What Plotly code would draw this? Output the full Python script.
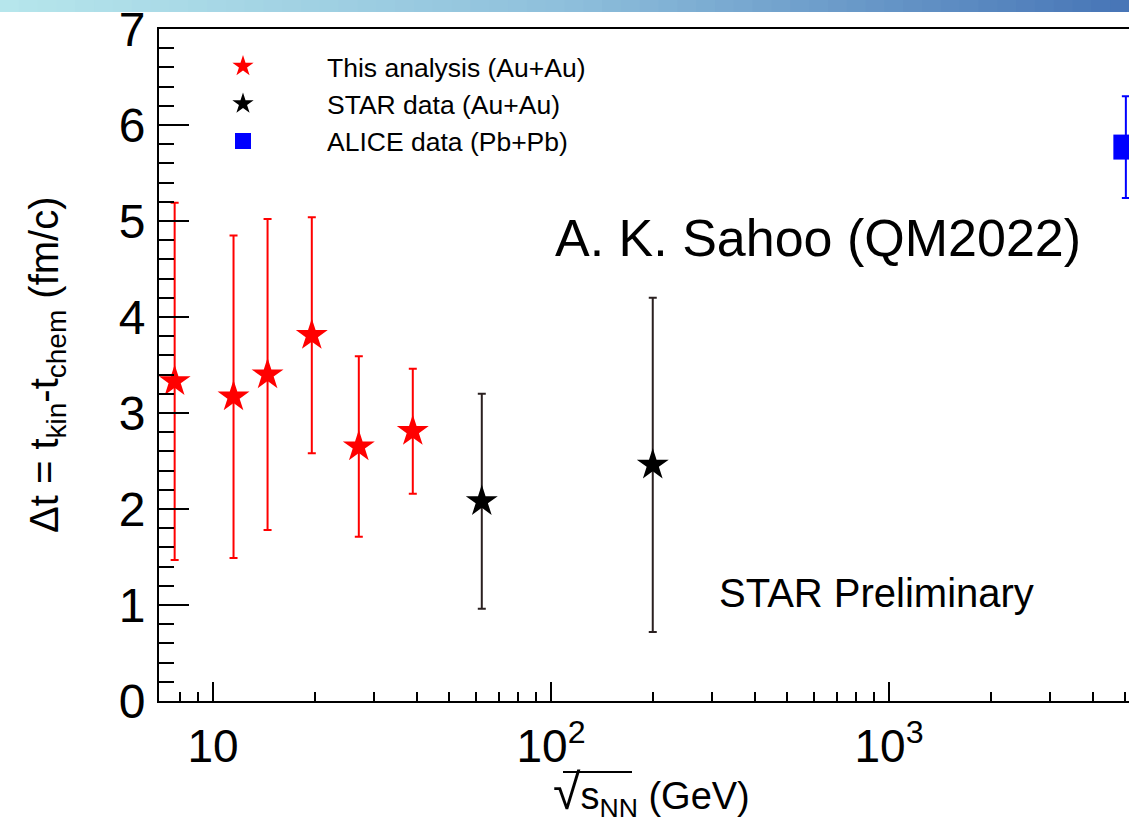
import plotly.graph_objects as go

# ---- data ----
this_x = [7.7, 11.5, 14.5, 19.6, 27.0, 39.0]
this_y = [3.33, 3.17, 3.40, 3.81, 2.65, 2.81]
this_err = [1.86, 1.68, 1.62, 1.23, 0.94, 0.65]

star_x = [62.4, 200.0]
star_y = [2.08, 2.46]
star_err = [1.12, 1.74]

alice_x = [5020.0]
alice_y = [5.77]
alice_err = [0.53]

x_tickvals = [10, 100, 1000]
x_ticktext = ["10", "10<sup>2</sup>", "10<sup>3</sup>"]
x_minor = [8, 9] + [d * 10 for d in range(2, 10)] + [d * 100 for d in range(2, 10)] + [d * 1000 for d in range(2, 10)]

FONT = "Liberation Sans, Arial, Helvetica, sans-serif"


def px_x(p):
    return (p - 159) / 970


def px_y(p):
    return (701 - p) / 672


fig = go.Figure()
fig.add_trace(go.Scatter(
    x=this_x, y=this_y, mode="markers", name="This analysis (Au+Au)",
    marker=dict(symbol="star", size=24, color="#ff0000", line=dict(width=0)),
    error_y=dict(type="data", array=this_err, color="#ff0000", thickness=2, width=4),
))
fig.add_trace(go.Scatter(
    x=star_x, y=star_y, mode="markers", name="STAR data (Au+Au)",
    marker=dict(symbol="star", size=24, color="#000000", line=dict(width=0)),
    error_y=dict(type="data", array=star_err, color="#2a2020", thickness=2, width=4),
))
fig.add_trace(go.Scatter(
    x=alice_x, y=alice_y, mode="markers", name="ALICE data (Pb+Pb)",
    marker=dict(symbol="square", size=25, color="#0000ff", line=dict(width=0)),
    error_y=dict(type="data", array=alice_err, color="#0000ff", thickness=2, width=4),
))

# gradient header band
c0 = (182, 230, 236)
c1 = (143, 192, 220)
c2 = (72, 118, 183)
N = 60
shapes = []
x_left = px_x(0)
for i in range(N):
    t = i / (N - 1)
    if t < 0.5:
        u = t / 0.5
        c = tuple(int(c0[k] + (c1[k] - c0[k]) * u) for k in range(3))
    else:
        u = (t - 0.5) / 0.5
        c = tuple(int(c1[k] + (c2[k] - c1[k]) * u) for k in range(3))
    xa = x_left + (1 - x_left) * i / N
    xb = x_left + (1 - x_left) * (i + 1) / N + 0.002
    shapes.append(dict(type="rect", xref="paper", yref="paper",
                       x0=xa, x1=xb, y0=px_y(12), y1=px_y(0) + 0.01,
                       fillcolor="rgb(%d,%d,%d)" % c, line=dict(width=0), layer="above"))

# overline of the square-root in the x title
shapes.append(dict(type="line", xref="paper", yref="paper",
                   x0=px_x(563), x1=px_x(632), y0=px_y(772), y1=px_y(772),
                   line=dict(color="black", width=2)))

fig.update_layout(
    width=1129, height=825,
    margin=dict(l=159, r=0, t=29, b=124),
    paper_bgcolor="white", plot_bgcolor="white",
    font=dict(family=FONT, color="black"),
    shapes=shapes,
    showlegend=True,
    legend=dict(x=0.0, y=0.98, xanchor="left", yanchor="top",
                font=dict(size=26.5, family=FONT, color="black"),
                bgcolor="rgba(0,0,0,0)", itemwidth=158, tracegroupgap=0),
    xaxis=dict(
        type="log", range=[0.8402, 3.710],
        tickmode="array", tickvals=x_tickvals, ticktext=x_ticktext,
        ticks="inside", ticklen=19, tickwidth=2, tickcolor="black",
        showline=True, linewidth=2, linecolor="black", mirror=True,
        showgrid=False, zeroline=False,
        tickfont=dict(size=46, family=FONT, color="black"),
        ticklabelstandoff=4,
        minor=dict(tickmode="array", tickvals=x_minor, ticks="inside", ticklen=9,
                   tickwidth=2, tickcolor="black", showgrid=False),
    ),
    yaxis=dict(
        range=[0, 7], dtick=1, tick0=0,
        ticks="inside", ticklen=30, tickwidth=2, tickcolor="black",
        showline=True, linewidth=2, linecolor="black", mirror=False,
        showgrid=False, zeroline=False,
        tickfont=dict(size=48, family=FONT, color="black"),
        ticklabelstandoff=2,
        minor=dict(dtick=0.2, ticks="inside", ticklen=15, tickwidth=2,
                   tickcolor="black", showgrid=False),
    ),
    annotations=[
        dict(text="Δt = t<sub>kin</sub>-t<sub>chem</sub> (fm/c)", textangle=-90,
             xref="paper", yref="paper", x=px_x(47), y=0.5,
             xanchor="center", yanchor="middle", showarrow=False,
             font=dict(size=40, family=FONT, color="black")),
        dict(text="<span style='font-size:50px'>√</span>s<sub>NN</sub> (GeV)",
             xref="paper", yref="paper", x=px_x(651), y=px_y(793),
             xanchor="center", yanchor="middle", showarrow=False,
             font=dict(size=38, family=FONT, color="black")),
        dict(text="A. K. Sahoo (QM2022)", xref="paper", yref="paper",
             x=px_x(818), y=px_y(238), xanchor="center", yanchor="middle",
             showarrow=False, font=dict(size=52, family=FONT, color="black")),
        dict(text="STAR Preliminary", xref="paper", yref="paper",
             x=px_x(876), y=px_y(593), xanchor="center", yanchor="middle",
             showarrow=False, font=dict(size=40, family=FONT, color="black")),
    ],
)

fig.write_html("out.html")
